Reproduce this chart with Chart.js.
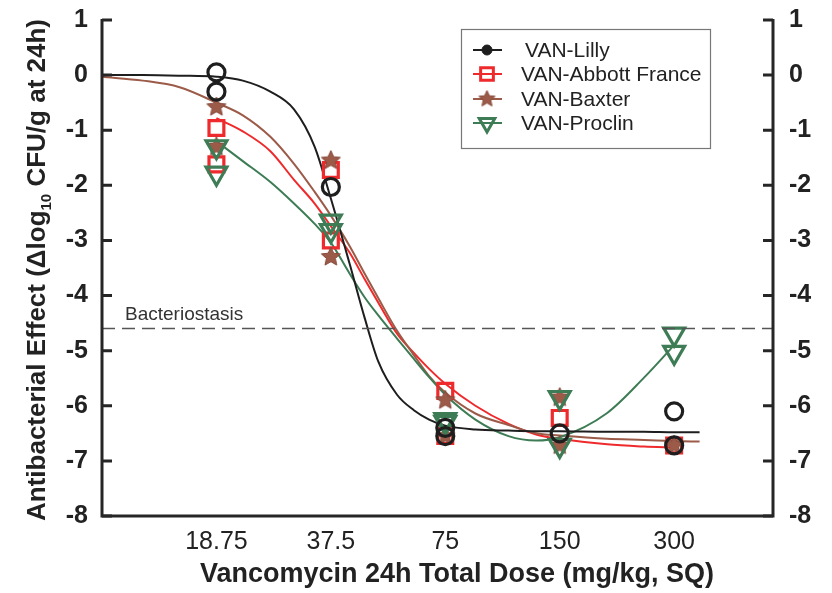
<!DOCTYPE html>
<html>
<head>
<meta charset="utf-8">
<script src="https://cdn.jsdelivr.net/npm/chart.js@4/dist/chart.umd.min.js"></script>
<style>
  html, body { margin: 0; padding: 0; background: #fff; }
  #wrap { width: 832px; height: 593px; position: relative; }
</style>
</head>
<body>
<div id="wrap"><canvas id="c"></canvas></div>
<script>
// Dose groups (mg/kg per 24 h) and their axis labels
const doseLabels = ['18.75', '37.5', '75', '150', '300'];
const doses = [18.75, 37.5, 75, 150, 300];
const yTicks = [1, 0, -1, -2, -3, -4, -5, -6, -7, -8];

// Observed change in log10 CFU/g per dose group (one entry per animal)
const lillyObs   = [[0.05, -0.3], [-2.03], [-6.4, -6.55], [-6.5], [-6.1, -6.72]];
const abbottObs  = [[-0.96, -1.62], [-1.72, -3.0], [-5.73, -6.55], [-6.22], [-6.72]];
const baxterObs  = [[-0.58, -1.3], [-1.55, -3.3], [-5.9, -6.55], [-5.85, -6.72], [-6.72]];
const proclinObs = [[-1.3, -1.78], [-2.65, -2.82], [-6.25, -6.3], [-5.85, -6.72], [-4.7, -5.03]];

// Fitted dose-response curves, sampled along the dose axis (null = not drawn)
const fitDoses   = [9.375, 12, 15, 18.75, 22, 26, 30, 34, 37.5, 42, 46, 50, 56, 62, 68, 75, 90, 110, 130, 150, 200, 250, 300, 350];
const lillyFit   = [0, 0, -0.01, -0.03, -0.1, -0.3, -0.62, -1.3, -2.24, -3.42, -4.4, -5.2, -5.8, -6.08, -6.25, -6.36, -6.43, -6.45, -6.46, -6.46, -6.47, -6.47, -6.48, -6.48];
const abbottFit  = [null, null, null, -0.78, -1.02, -1.38, -1.9, -2.33, -2.74, -3.22, -3.7, -4.13, -4.69, -5.04, -5.33, -5.6, -6.0, -6.33, -6.52, -6.6, -6.7, -6.74, -6.76, null];
const baxterFit  = [-0.03, -0.1, -0.22, -0.5, -0.73, -1.12, -1.61, -2.12, -2.55, -3.1, -3.6, -4.05, -4.64, -5.08, -5.46, -5.76, -6.14, -6.35, -6.5, -6.54, -6.6, -6.62, -6.64, -6.65];
const proclinFit = [null, null, null, -1.2, -1.56, -1.94, -2.33, -2.7, -3.04, -3.6, -4.03, -4.36, -4.78, -5.15, -5.48, -5.8, -6.25, -6.55, -6.63, -6.57, -6.13, -5.49, -4.9, null];

const bacteriostasis = -4.6;

const seriesNames = ['VAN-Lilly', 'VAN-Abbott France', 'VAN-Baxter', 'VAN-Proclin'];
const COLORS = { lilly: '#1e1e1e', abbott: '#ee2a2c', baxter: '#9c5b48', proclin: '#3d7c55' };
const FONT = "'Liberation Sans', Arial, Helvetica, sans-serif";

function obsPoints(obs) {
  const pts = [];
  obs.forEach((vals, i) => vals.forEach(v => pts.push({ x: doses[i], y: v })));
  return pts;
}
function fitPoints(vals) {
  return fitDoses.map((d, i) => ({ x: d, y: vals[i] })).filter(p => p.y !== null);
}

// Five-pointed filled star used as the VAN-Baxter marker
function makeStar(size, color) {
  const cv = document.createElement('canvas');
  cv.width = size; cv.height = size;
  const g = cv.getContext('2d');
  const c = size / 2, ro = size / 2 - 1, ri = ro * 0.47;
  g.beginPath();
  for (let k = 0; k < 10; k++) {
    const r = k % 2 === 0 ? ro : ri;
    const a = -Math.PI / 2 + k * Math.PI / 5;
    const px = c + r * Math.cos(a), py = c + r * Math.sin(a);
    k === 0 ? g.moveTo(px, py) : g.lineTo(px, py);
  }
  g.closePath();
  g.fillStyle = color;
  g.fill();
  g.lineWidth = 1;
  g.strokeStyle = '#86483a';
  g.stroke();
  return cv;
}
const starImg = makeStar(22, COLORS.baxter);
const starSmall = makeStar(19, COLORS.baxter);

const fitStyle = (color) => ({
  showLine: true, pointRadius: 0, borderWidth: 2, borderColor: color,
  backgroundColor: color, cubicInterpolationMode: 'monotone', fill: false
});

const datasets = [
  { label: seriesNames[0], data: obsPoints(lillyObs), showLine: false, pointStyle: 'circle',
    pointRadius: 8.5, pointBorderWidth: 3.2, borderColor: COLORS.lilly, backgroundColor: 'rgba(0,0,0,0)' },
  { label: seriesNames[3], data: obsPoints(proclinObs), showLine: false, pointStyle: 'triangle', rotation: 180,
    pointRadius: 12, pointBorderWidth: 3.2, borderColor: COLORS.proclin, backgroundColor: 'rgba(0,0,0,0)' },
  { label: seriesNames[2], data: obsPoints(baxterObs), showLine: false, pointStyle: starImg,
    pointRadius: 11, borderColor: COLORS.baxter, backgroundColor: COLORS.baxter },
  { label: seriesNames[1], data: obsPoints(abbottObs), showLine: false, pointStyle: 'rect',
    pointRadius: 10.5, pointBorderWidth: 3.2, borderColor: COLORS.abbott, backgroundColor: 'rgba(0,0,0,0)' },
  Object.assign({ label: 'Lilly fit', data: fitPoints(lillyFit) }, fitStyle(COLORS.lilly)),
  Object.assign({ label: 'Proclin fit', data: fitPoints(proclinFit) }, fitStyle(COLORS.proclin)),
  Object.assign({ label: 'Baxter fit', data: fitPoints(baxterFit) }, fitStyle(COLORS.baxter)),
  Object.assign({ label: 'Abbott fit', data: fitPoints(abbottFit) }, fitStyle(COLORS.abbott))
];

// Axis frame, inward ticks, reference line, titles and legend
const decorations = {
  id: 'decorations',
  afterDatasetsDraw(chart) {
    const ctx = chart.ctx;
    const { left, right, top, bottom } = chart.chartArea;
    const ys = chart.scales.y;
    ctx.save();

    // bacteriostasis reference line
    const yb = ys.getPixelForValue(bacteriostasis);
    ctx.strokeStyle = '#555';
    ctx.lineWidth = 1.5;
    ctx.setLineDash([13, 7]);
    ctx.beginPath(); ctx.moveTo(left, yb); ctx.lineTo(right, yb); ctx.stroke();
    ctx.setLineDash([]);
    ctx.fillStyle = '#333';
    ctx.font = '19px ' + FONT;
    ctx.textBaseline = 'alphabetic';
    ctx.textAlign = 'left';
    ctx.fillText('Bacteriostasis', left + 23, yb - 9);

    // axis frame
    ctx.strokeStyle = '#262626';
    ctx.lineWidth = 3;
    ctx.lineCap = 'butt';
    ctx.beginPath();
    ctx.moveTo(left, top - 1); ctx.lineTo(left, bottom);
    ctx.lineTo(right, bottom); ctx.lineTo(right, top - 1);
    ctx.stroke();
    ctx.beginPath();
    yTicks.forEach(v => {
      const py = ys.getPixelForValue(v);
      ctx.moveTo(left, py); ctx.lineTo(left + 10, py);
      ctx.moveTo(right, py); ctx.lineTo(right - 10, py);
    });
    ctx.stroke();

    // x-axis title
    ctx.fillStyle = '#222';
    ctx.font = 'bold 27px ' + FONT;
    ctx.textAlign = 'center';
    ctx.textBaseline = 'middle';
    ctx.fillText('Vancomycin 24h Total Dose (mg/kg, SQ)', 457, 575);

    // y-axis title with subscript
    const parts = [
      { t: 'Antibacterial Effect (\u0394log', f: 'bold 26px ' + FONT, dy: 0 },
      { t: '10', f: 'bold 15px ' + FONT, dy: 6 },
      { t: ' CFU/g at 24h)', f: 'bold 26px ' + FONT, dy: 0 }
    ];
    let total = 0;
    parts.forEach(p => { ctx.font = p.f; p.w = ctx.measureText(p.t).width; total += p.w; });
    ctx.translate(45, 270);
    ctx.rotate(-Math.PI / 2);
    ctx.textAlign = 'left';
    ctx.textBaseline = 'alphabetic';
    let cx = -total / 2;
    parts.forEach(p => { ctx.font = p.f; ctx.fillText(p.t, cx, p.dy); cx += p.w; });
    ctx.setTransform(1, 0, 0, 1, 0, 0);

    // legend
    const lx = 461, ly = 29, lw = 249, lh = 119;
    ctx.fillStyle = '#fff';
    ctx.fillRect(lx, ly, lw, lh);
    ctx.strokeStyle = '#777';
    ctx.lineWidth = 1.2;
    ctx.strokeRect(lx + 0.5, ly + 0.5, lw, lh);
    const rows = [50, 74, 99, 123];
    const legendItems = [
      { name: seriesNames[0], color: COLORS.lilly, style: 'circle', r: 5, bw: 1, fill: COLORS.lilly, tx: 525 },
      { name: seriesNames[1], color: COLORS.abbott, style: 'rect', r: 9, bw: 3, fill: 'rgba(0,0,0,0)', tx: 521 },
      { name: seriesNames[2], color: COLORS.baxter, style: starSmall, r: 9, bw: 1, fill: COLORS.baxter, tx: 521 },
      { name: seriesNames[3], color: COLORS.proclin, style: 'triangle', r: 9, bw: 3, fill: 'rgba(0,0,0,0)', rot: 180, tx: 521 }
    ];
    legendItems.forEach((it, i) => {
      const y = rows[i];
      ctx.strokeStyle = it.color;
      ctx.lineWidth = 2;
      ctx.beginPath(); ctx.moveTo(473, y); ctx.lineTo(502, y); ctx.stroke();
      ctx.fillStyle = it.fill;
      ctx.lineWidth = it.bw;
      Chart.helpers.drawPoint(ctx, { pointStyle: it.style, radius: it.r, rotation: it.rot || 0, borderWidth: it.bw }, 487, y);
      ctx.fillStyle = '#222';
      ctx.font = '21px ' + FONT;
      ctx.textAlign = 'left';
      ctx.textBaseline = 'middle';
      ctx.fillText(it.name, it.tx, y + 1);
    });
    ctx.restore();
  }
};

// Vertical axes: fixed widths and no extra label padding at the ends
const fitVertical = (w) => (s) => { s.width = w; s.paddingTop = 0; s.paddingBottom = 0; };

new Chart(document.getElementById('c'), {
  type: 'scatter',
  data: { datasets },
  options: {
    responsive: true,
    maintainAspectRatio: false,
    animation: false,
    events: [],
    layout: { padding: { top: 20, left: 0, right: 0, bottom: 0 } },
    plugins: { legend: { display: false }, tooltip: { enabled: false } },
    scales: {
      x: {
        type: 'logarithmic',
        min: 9.375,
        max: 546,
        grid: { display: false, drawTicks: false },
        border: { display: false },
        afterBuildTicks: s => { s.ticks = doses.map(v => ({ value: v })); },
        afterFit: s => { s.height = 77; s.paddingLeft = 0; s.paddingRight = 0; },
        ticks: {
          autoSkip: false, maxRotation: 0, padding: 11, color: '#222',
          font: { family: FONT, size: 25 },
          callback: (v, i) => doseLabels[i]
        }
      },
      y: {
        type: 'linear', position: 'left', min: -8, max: 1,
        grid: { display: false, drawTicks: false },
        border: { display: false },
        afterBuildTicks: s => { s.ticks = yTicks.map(v => ({ value: v })); },
        afterFit: fitVertical(102),
        ticks: { padding: 14, color: '#222', font: { family: FONT, size: 25, weight: 'bold' } }
      },
      y2: {
        type: 'linear', position: 'right', min: -8, max: 1,
        grid: { display: false, drawTicks: false },
        border: { display: false },
        afterBuildTicks: s => { s.ticks = yTicks.map(v => ({ value: v })); },
        afterFit: fitVertical(59),
        ticks: { padding: 16, color: '#222', font: { family: FONT, size: 25, weight: 'bold' } }
      }
    }
  },
  plugins: [decorations]
});
</script>
</body>
</html>
